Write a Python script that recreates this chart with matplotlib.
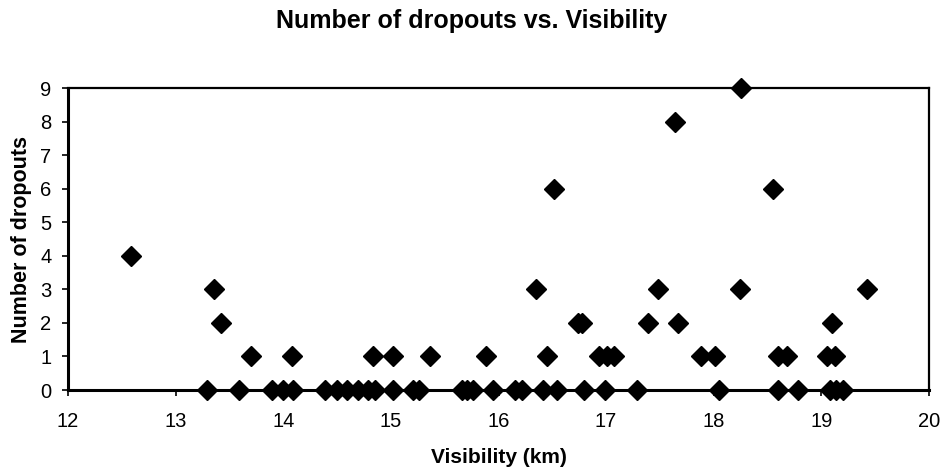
import matplotlib
matplotlib.use("Agg")
import matplotlib.pyplot as plt
import numpy as np

# visibility (km) and number of dropouts
visibility = [12.59,
              13.36, 16.35, 17.48, 18.24, 19.42,
              13.42, 16.74, 16.78, 17.39, 17.67, 19.10,
              13.70, 14.08, 14.83, 15.02, 15.36, 15.88, 16.45, 16.93, 17.01, 17.07,
              17.88, 18.01, 18.60, 18.68, 19.05, 19.13,
              16.52, 18.55,
              17.64,
              18.25,
              13.29, 13.59, 13.90, 14.00, 14.09, 14.39, 14.50, 14.59, 14.69, 14.79,
              14.85, 15.02, 15.21, 15.26, 15.66, 15.71, 15.76, 15.95, 16.15, 16.22,
              16.41, 16.54, 16.79, 16.99, 17.29, 18.05, 18.60, 18.78, 19.08, 19.14, 19.20]
dropouts = [4,
            3, 3, 3, 3, 3,
            2, 2, 2, 2, 2, 2,
            1, 1, 1, 1, 1, 1, 1, 1, 1, 1,
            1, 1, 1, 1, 1, 1,
            6, 6,
            8,
            9,
            0, 0, 0, 0, 0, 0, 0, 0, 0, 0,
            0, 0, 0, 0, 0, 0, 0, 0, 0, 0,
            0, 0, 0, 0, 0, 0, 0, 0, 0, 0, 0]

x_ticks = list(range(12, 21))
y_ticks = list(range(0, 10))

plt.rcParams['font.family'] = ['Liberation Sans', 'DejaVu Sans']

fig = plt.figure(figsize=(9.44, 4.71), dpi=100)
ax = fig.add_axes([68 / 944, 1 - 390 / 471, (929 - 68) / 944, (390 - 88) / 471])

ax.plot(visibility, dropouts, linestyle="none", marker="D", markersize=10,
        color="black", clip_on=False, zorder=3)

ax.set_xlim(12, 20)
ax.set_ylim(0, 9)
ax.set_xticks(x_ticks)
ax.set_yticks(y_ticks)
ax.tick_params(axis="both", direction="out", length=4, width=1.2, labelsize=14.5)
ax.tick_params(axis="x", pad=12)
ax.tick_params(axis="y", pad=8)

for side in ["left", "bottom"]:
    ax.spines[side].set_linewidth(2.2)
for side in ["top", "right"]:
    ax.spines[side].set_linewidth(1.6)

ax.set_xlabel("Visibility (km)", fontsize=15, fontweight="bold", labelpad=12)
ax.set_ylabel("Number of dropouts", fontsize=15.5, fontweight="bold", labelpad=6)
fig.text(0.5, 1 - 21 / 471, "Number of dropouts vs. Visibility",
         ha="center", va="center", fontsize=18, fontweight="bold")

fig.savefig("out.png", dpi=100)
